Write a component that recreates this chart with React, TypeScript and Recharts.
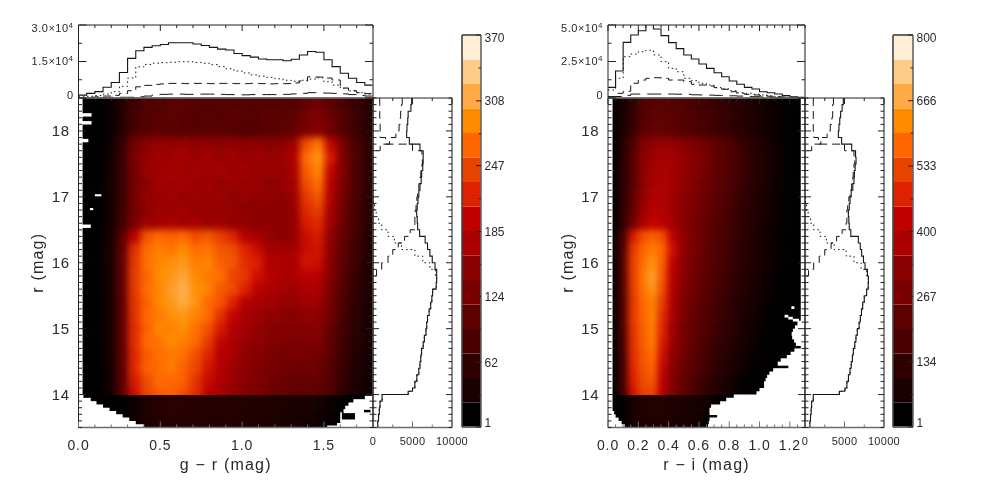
import React from 'react';
import { ScatterChart, Scatter, LineChart, Line, BarChart, Bar, XAxis, YAxis, ReferenceArea } from 'recharts';

const W = 981, H = 492;
const FONT = '"Liberation Sans", Arial, sans-serif';
const INK = '#2a2a2a';

const bandColors = ['#000000','#1a0000','#300000','#4a0000','#5f0000','#780000','#8b0000','#aa0000','#be0000','#dd2200','#e84400','#ff6600','#ff8c00','#ffaa44','#ffcc88','#fff0d5'];

const leftColumns = [0.0375,0.1125,0.1875,0.2625,0.3375,0.4125,0.4875,0.5625,0.6375,0.7125,0.7875,0.8625,0.9375,1.0125,1.0875,1.1625,1.2375,1.3125,1.3875,1.4625,1.5375,1.6125,1.6875,1.7625];
const rightColumns = [0.0325,0.0975,0.1625,0.2275,0.2925,0.3575,0.4225,0.4875,0.5525,0.6175,0.6825,0.7475,0.8125,0.8775,0.9425,1.0075,1.0725,1.1375,1.2025,1.2675];
const upperRows = [18.4,18.2,18.0,17.8,17.6,17.4,17.2,17.0,16.8,16.6,16.4,16.2,16.0,15.8,15.6,15.4,15.2,15.0,14.8,14.6,14.4,14.2,14.0];
const lowerRows = [13.9,13.7,13.5];

const leftUpper = [
[3,6,20,45,72,88,92,98,100,96,92,95,92,95,90,94,95,92,110,120,105,85,65,50],
[3,6,18,45,78,92,98,102,96,92,96,92,100,96,94,100,98,105,125,135,115,90,70,50],
[3,6,18,48,82,96,102,100,98,98,96,100,96,92,94,98,105,110,135,145,120,95,70,50],
[3,8,25,62,125,152,160,156,162,152,158,152,156,150,156,150,152,165,250,275,200,130,85,55],
[3,8,28,68,130,158,168,165,172,162,168,160,168,158,166,160,164,180,270,295,215,135,90,55],
[3,8,28,68,125,160,166,172,166,170,162,172,162,168,158,164,156,175,260,285,200,135,85,55],
[3,8,28,68,125,152,168,164,170,162,168,156,166,158,162,152,158,170,250,270,190,130,85,55],
[3,8,28,68,125,158,162,168,156,166,158,164,152,162,152,158,148,165,235,255,180,125,85,50],
[3,8,28,72,125,152,168,160,168,156,164,156,158,150,154,146,152,160,225,240,170,120,80,50],
[3,8,28,74,132,165,166,178,166,174,160,168,156,158,150,154,146,160,215,225,165,115,80,50],
[3,8,32,95,195,255,270,262,268,250,258,240,222,188,172,158,152,160,205,215,155,110,75,45],
[3,8,34,105,228,268,282,275,288,270,275,255,250,222,205,172,168,170,205,210,150,105,70,45],
[3,8,34,108,235,272,285,292,298,280,285,262,255,228,218,182,178,175,210,205,145,100,70,40],
[3,8,34,108,238,265,290,296,308,288,278,272,245,234,208,192,178,178,195,190,140,95,65,40],
[3,8,34,108,236,270,286,302,316,292,284,258,248,220,198,178,172,165,180,175,130,90,60,40],
[3,8,32,105,232,262,288,298,312,295,268,255,220,192,172,168,158,158,165,165,125,85,60,38],
[3,8,30,105,230,268,278,292,296,284,270,232,200,172,165,155,152,145,155,150,120,80,55,35],
[3,8,30,105,226,262,286,282,290,272,252,215,184,170,158,148,140,142,145,145,110,75,50,35],
[3,8,30,105,228,268,274,288,280,268,238,200,176,160,154,142,138,130,135,135,105,70,50,35],
[3,8,30,100,222,258,272,276,272,250,222,190,172,156,145,134,126,128,125,125,100,70,45,30],
[3,8,28,100,225,262,268,280,262,246,212,188,165,152,140,128,124,116,120,115,95,65,45,30],
[3,8,28,100,215,248,270,266,262,232,204,178,162,146,136,124,118,112,110,110,90,60,40,25],
[3,8,28,95,205,245,258,262,248,228,195,172,156,140,130,118,112,106,105,100,85,55,35,25],
];
const leftLower = [
[3,5,8,12,24,40,48,50,50,50,48,48,46,46,44,42,40,38,36,32,24,16,10,5],
[3,5,8,12,24,40,48,50,48,48,46,46,48,44,42,40,38,36,34,28,20,12,6,3],
[3,5,8,12,24,38,46,48,48,46,46,44,44,42,40,38,36,34,30,24,16,10,5,3],
];
const rightUpper = [
[15,70,130,190,210,215,205,195,175,165,150,135,120,105,85,70,55,40,25,10],
[15,75,135,195,220,220,215,200,185,170,155,140,125,105,90,70,55,40,25,10],
[15,80,145,215,235,235,225,210,195,180,165,145,125,110,90,70,55,40,25,10],
[15,100,190,300,330,345,340,325,300,270,245,210,180,145,115,90,65,45,25,10],
[15,110,205,325,355,370,365,345,315,285,250,215,180,150,120,95,70,45,25,10],
[15,110,205,325,365,375,365,345,315,280,245,215,180,150,120,95,70,45,25,10],
[15,110,210,325,370,375,365,340,305,270,240,205,175,145,115,90,65,45,25,10],
[15,115,220,335,385,380,360,330,300,265,230,200,170,140,110,85,60,40,25,10],
[15,120,230,350,405,395,360,325,290,255,225,190,160,130,105,80,60,40,25,10],
[15,130,260,390,430,410,370,325,285,250,215,185,155,125,100,75,55,40,20,10],
[15,170,460,540,565,540,430,340,285,245,215,180,150,125,95,75,55,35,20,10],
[15,185,505,570,605,570,450,345,285,240,205,175,145,120,90,70,50,35,20,8],
[15,190,515,585,635,565,430,335,275,235,200,170,140,115,90,70,50,30,18,8],
[15,190,515,595,655,555,415,330,270,230,195,165,135,110,85,65,45,30,15,5],
[15,190,510,590,640,540,405,320,265,225,190,160,130,105,80,60,40,25,12,5],
[15,185,505,575,610,515,395,310,255,215,180,150,120,95,75,55,35,20,10,5],
[15,185,505,570,615,495,380,300,245,205,170,145,115,90,65,45,30,15,8,3],
[15,180,500,565,605,480,365,290,240,200,165,135,110,85,60,40,25,15,5,3],
[15,175,495,560,600,465,355,280,230,190,155,125,100,75,55,35,20,10,5,3],
[15,170,490,550,585,450,340,270,220,180,145,115,90,65,45,30,15,8,3,3],
[15,165,480,545,570,435,325,260,210,170,135,105,80,55,35,20,10,5,3,3],
[15,160,470,535,550,420,310,245,195,155,120,90,65,40,25,10,5,3,3,3],
[10,150,450,515,525,400,295,230,185,145,110,80,55,35,15,5,3,3,3,3],
];
const rightLower = [
[5,32,72,88,92,92,88,84,72,68,52,20,6,3,3,3,3,3,3,3],
[5,28,68,84,92,88,84,76,68,56,36,6,3,3,3,3,3,3,3,3],
[5,24,64,80,88,88,80,72,64,48,24,4,3,3,3,3,3,3,3,3],
];

// Top histograms
const topLeftTotal = [1200,1900,2600,4400,6400,10500,16300,19400,20800,21500,22000,22700,22700,22700,22200,21600,20800,20100,19700,18300,17400,16800,16000,15700,15700,15300,15900,17700,19100,18800,15700,12900,10200,8100,6400,5300];
const topLeftDotted = [500,700,1000,1600,2600,4800,8200,12800,13800,14300,14500,14700,14900,14900,14600,14300,13700,12900,12000,11100,10300,9500,9000,8500,7900,7300,6900,7300,7800,8300,6700,5300,4000,2900,2200,1600];
const topLeftDashed = [200,300,500,800,1100,1900,3000,4600,5200,5600,5800,6000,6000,5900,6000,6000,5900,6000,6000,5900,5900,6000,5900,5800,5900,5900,6200,7000,8700,8600,8200,7400,4100,3000,2200,1800];
const topLeftLong = [100,100,100,100,300,300,300,500,800,1300,1500,1600,1600,1500,1600,1600,1600,1500,1400,1300,1300,1400,1400,1400,1400,1500,1700,1900,2200,2200,2000,1900,1700,1400,1000,800];
const topRightTotal = [7300,18500,38100,43100,46100,50500,47300,42700,37900,33800,29500,26700,23300,20300,17300,14600,11600,9400,7300,6200,4300,3600,2700,1600,900,500];
const topRightDotted = [5500,13500,28300,30100,31700,32700,29500,24900,20300,18000,13500,11900,10100,8900,7100,6200,5000,3600,3200,2500,2100,1400,900,500,400,300];
const topRightDashed = [900,3200,4600,10100,12300,13500,13900,13500,12300,12300,11200,9400,8900,8200,7100,6000,4300,3200,2500,2100,1600,1200,800,600,400,300];
const topRightLong = [800,1000,1800,2700,2700,2700,2700,2700,2700,2600,2500,2200,2100,2000,1800,1700,1500,1300,1100,900,700,500,400,300,200,100];

// Side histograms (r, top to bottom)
const sideMags = [18.5,18.4,18.3,18.2,18.1,18.0,17.9,17.8,17.7,17.6,17.5,17.4,17.3,17.2,17.1,17.0,16.9,16.8,16.7,16.6,16.5,16.4,16.3,16.2,16.1,16.0,15.9,15.8,15.7,15.6,15.5,15.4,15.3,15.2,15.1,15.0,14.9,14.8,14.7,14.6,14.5,14.4,14.3,14.2,14.1,14.05,14.0,13.9,13.8,13.7,13.6,13.5];
const sideLeftTotal = [4900,4800,4450,4400,4300,4260,4600,5950,6350,6350,6300,6160,6100,5950,5800,5700,5600,5530,5600,5650,5900,6600,6900,7200,7500,7850,8060,8060,8000,7550,7450,7300,7100,6900,6800,6700,6500,6350,6150,6050,5950,5800,5550,5300,5000,4450,1150,890,800,700,600,510];
const n = null;
const sideLeftDotted = [n,n,n,n,n,n,n,n,n,n,n,n,n,n,n,40,200,400,700,1100,1900,2700,3600,5300,6300,7200,7900,8060,8000,7550,7450,7300,7100,6900,6800,6700,6500,6350,6150,6050,5950,5800,5550,5300,5000,4450,1150,890,800,700,600,510];
const sideLeftDashed = [3700,3600,3500,3450,3300,2900,2100,900,200,n,n,n,n,n,n,n,n,n,n,n,n,n,n,n,n,n,n,n,n,n,n,n,n,n,n,n,n,n,n,n,n,n,n,n,n,n,n,n,n,n,n,n];
const sideLeftLong = [850,850,850,900,900,900,1600,5000,6200,6250,6200,6050,5950,5800,5650,5550,5450,5350,5300,5300,4700,4000,3200,2500,1900,1100,450,100,n,n,n,n,n,n,n,n,n,n,n,n,n,n,n,n,n,n,n,n,n,n,n,n];
const sideRightTotal = [4850,4700,4510,4400,4300,4220,4640,5910,6400,6460,6350,6250,6200,6050,5850,5700,5600,5490,5550,5600,5800,6750,7000,7170,7400,7600,7900,8020,8000,7800,7500,7300,7150,7000,6850,6620,6450,6300,6120,6000,5850,5700,5500,5300,5050,4350,1050,840,780,700,620,550];
const sideRightDotted = [n,n,n,n,n,n,n,n,n,n,n,n,n,n,n,40,200,400,700,1100,1900,2700,3700,5200,6200,7100,7800,8020,8000,7800,7500,7300,7150,7000,6850,6620,6450,6300,6120,6000,5850,5700,5500,5300,5050,4350,1050,840,780,700,620,550];
const sideRightDashed = [3600,3500,3500,3400,3200,2800,2000,850,300,n,n,n,n,n,n,n,n,n,n,n,n,n,n,n,n,n,n,n,n,n,n,n,n,n,n,n,n,n,n,n,n,n,n,n,n,n,n,n,n,n,n,n];
const sideRightLong = [1050,1050,1050,1050,1050,1100,1700,5000,6200,6300,6200,6100,6050,5900,5700,5550,5400,5300,5300,5200,4700,4000,3300,2500,1800,1100,450,100,n,n,n,n,n,n,n,n,n,n,n,n,n,n,n,n,n,n,n,n,n,n,n,n];

// White, unsampled parts of the maps: [r upper, r lower, colour from, colour to]
const leftHoles = [
[18.5,13.95,0,0.025],[18.27,18.23,0,0.08],[18.15,18.11,0,0.08],[17.88,17.84,0,0.06],[16.58,16.54,0,0.075],[17.04,17.02,0.1,0.14],[16.83,16.81,0.07,0.09],
[14.0,13.95,0,0.03],[13.95,13.9,0,0.075],[13.9,13.85,0,0.11],[13.85,13.8,0,0.15],[13.8,13.75,0,0.19],[13.75,13.7,0,0.23],[13.7,13.65,0,0.27],[13.65,13.6,0,0.31],[13.6,13.55,0,0.35],[13.55,13.5,0,0.4],
[13.98,13.93,1.75,1.8],[13.93,13.88,1.68,1.8],[13.88,13.83,1.65,1.8],[13.83,13.78,1.63,1.8],[13.78,13.73,1.62,1.745],[13.78,13.73,1.785,1.8],[13.73,13.62,1.69,1.8],[13.73,13.62,1.6,1.61],[13.62,13.57,1.6,1.8],[13.57,13.53,1.58,1.8],[13.53,13.5,1.52,1.8],
];
const rightHoles = [
[18.5,13.5,0,0.03],[18.5,15.12,1.272,1.3],[15.34,15.31,1.21,1.23],[15.21,15.18,1.165,1.19],[15.18,15.15,1.19,1.22],[15.15,15.12,1.22,1.26],
[15.12,15.05,1.25,1.3],[15.05,15.0,1.234,1.3],[15.0,14.95,1.22,1.3],[14.95,14.9,1.212,1.3],[14.9,14.85,1.215,1.3],[14.85,14.8,1.228,1.3],[14.8,14.75,1.24,1.3],[14.75,14.7,1.272,1.3],[14.7,14.65,1.23,1.3],[14.65,14.6,1.205,1.3],[14.6,14.55,1.18,1.3],[14.55,14.5,1.14,1.3],[14.5,14.45,1.12,1.3],[14.45,14.4,1.19,1.3],[14.4,14.35,1.09,1.3],[14.35,14.3,1.065,1.3],[14.3,14.25,1.05,1.3],[14.25,14.2,1.04,1.3],[14.2,14.15,1.03,1.3],[14.15,14.1,1.03,1.3],[14.1,14.05,1.0,1.3],[14.05,14.0,0.98,1.3],[14.0,13.95,0.83,1.3],[13.95,13.9,0.78,1.3],[13.9,13.85,0.74,1.3],[13.85,13.8,0.68,1.3],[13.8,13.75,0.67,1.3],[13.75,13.7,0.67,1.3],[13.7,13.65,0.72,1.3],[13.65,13.6,0.67,1.3],[13.6,13.55,0.665,1.3],[13.55,13.5,0.66,1.3],
[13.75,13.7,0,0.04],[13.7,13.65,0,0.05],[13.65,13.6,0,0.07],[13.6,13.55,0,0.09],[13.55,13.5,0,0.11],
];

const magTicks = Array.from({ length: 51 }, (_, i) => 13.5 + i * 0.1);
const grTicks = Array.from({ length: 19 }, (_, i) => i * 0.1);
const riTicks = Array.from({ length: 27 }, (_, i) => i * 0.05);
const countTicks = [0, 2500, 5000, 7500, 10000];
const topLeftTicks = [0, 7500, 15000, 22500, 30000];
const topRightTicks = [0, 12500, 25000, 37500, 50000];
const barLeftTicks = [1, 31, 62, 93, 124, 154, 185, 216, 247, 277, 308, 339, 370];
const barRightTicks = [1, 67, 134, 200, 267, 333, 400, 466, 533, 600, 666, 733, 800];

type Rect = { x0: number; y0: number; x1: number; y1: number };
const marginOf = (r: Rect) => ({ left: r.x0, top: r.y0, right: W - r.x1, bottom: H - r.y1 });
const boxMargin = (r: Rect) => ({ left: r.x0 - 1, top: r.y0 - 1, right: W - r.x1 - 1, bottom: H - r.y1 - 1 });
const near = (v: number, step: number) => Math.abs(v / step - Math.round(v / step)) < 1e-6;

const toRgb = (h: string) => [1, 3, 5].map((i) => parseInt(h.slice(i, i + 2), 16));
function shade(v: number, max: number) {
  const t = Math.min(15, Math.max(0, ((v - 1) / (max - 1)) * 16 - 0.5));
  const a = Math.floor(t), b = Math.min(15, a + 1), f = t - a;
  const ca = toRgb(bandColors[a]), cb = toRgb(bandColors[b]);
  return `rgb(${ca.map((c, i) => Math.round(c + (cb[i] - c) * f)).join(',')})`;
}

type TickCfg = { side: 'left' | 'right' | 'top' | 'bottom'; major: (v: number) => boolean; majorLen: number; minorLen: number; stroke: string; strokeWidth?: number; label?: (v: number) => React.ReactNode; offset?: number; size?: number; spacing?: number; dy?: (v: number) => number };
const makeTick = (c: TickCfg) => (p: any) => {
  const { x, y, payload } = p;
  const v = payload.value as number;
  const m = c.major(v);
  const len = m ? c.majorLen : c.minorLen;
  const d = c.side === 'bottom' ? [x, y - len] : c.side === 'top' ? [x, y + len] : c.side === 'left' ? [x + len, y] : [x - len, y];
  const off = c.offset ?? 6;
  const lab = m && c.label ? c.label(v) : null;
  const dy = c.dy ? c.dy(v) : 0;
  return (
    <g>
      <line x1={x} y1={y} x2={d[0]} y2={d[1]} stroke={c.stroke} strokeWidth={c.strokeWidth ?? 1} />
      {lab !== null && lab !== undefined && (
        <text
          x={c.side === 'left' ? x - off : c.side === 'right' ? x + off : x}
          y={c.side === 'bottom' ? y + off : y + dy}
          dy={c.side === 'bottom' ? 0 : '0.36em'}
          textAnchor={c.side === 'left' ? 'end' : c.side === 'right' ? 'start' : 'middle'}
          fontFamily={FONT} fontSize={c.size ?? 14} letterSpacing={c.spacing ?? 0} fill={INK}
        >{lab}</text>
      )}
    </g>
  );
};

const DARK = '#222222', GREY = '#6e6e6e';
const Layer = ({ children }: { children: React.ReactNode }) => (
  <div style={{ position: 'absolute', left: 0, top: 0, width: W, height: H }}>{children}</div>
);

function boxAxes(o: { xDomain: number[]; yDomain: number[]; xTicks: number[]; yTicks: number[]; xKey?: string; yKey?: string; xMajor: (v: number) => boolean; yMajor: (v: number) => boolean; xMajorLen?: number; yMajorLen?: number; xLabelFn?: (v: number) => React.ReactNode; yLabelFn?: (v: number) => React.ReactNode; xSize?: number; ySize?: number; xSpacing?: number; xOff?: number; yOff?: number; dy?: (v: number) => number; xTitle?: string; yTitle?: string; showBottom?: boolean; showTop?: boolean; rightLen?: number; reversed?: boolean }) {
  const xm = o.xMajorLen ?? 6, ym = o.yMajorLen ?? 7;
  const common = { interval: 0 as const, tickSize: 0, tickMargin: 0, tickLine: false, allowDataOverflow: true };
  return (
    <>
      <XAxis {...common} xAxisId={0} type="number" dataKey={o.xKey} domain={o.xDomain} ticks={o.xTicks} orientation="bottom" height={1}
        axisLine={{ stroke: GREY, strokeWidth: 1.6 }}
        tick={o.showBottom === false ? false : makeTick({ side: 'bottom', major: o.xMajor, majorLen: xm, minorLen: 3, stroke: GREY, label: o.xLabelFn, offset: o.xOff ?? 22, size: o.xSize ?? 14, spacing: o.xSpacing ?? 0.9 })}
        label={o.xTitle ? { value: o.xTitle, position: 'bottom', offset: 30, style: { fontFamily: FONT, fontSize: 16, fill: INK, letterSpacing: 1.2 } } : undefined} />
      <XAxis {...common} xAxisId="t" type="number" dataKey={o.xKey} domain={o.xDomain} ticks={o.xTicks} orientation="top" height={1}
        axisLine={{ stroke: DARK, strokeWidth: 1 }}
        tick={o.showTop === false ? false : makeTick({ side: 'top', major: o.xMajor, majorLen: xm, minorLen: 3, stroke: DARK })} />
      <YAxis {...common} yAxisId={0} type="number" dataKey={o.yKey} domain={o.yDomain} ticks={o.yTicks} orientation="left" width={1} reversed={o.reversed}
        axisLine={{ stroke: DARK, strokeWidth: 1 }}
        tick={makeTick({ side: 'left', major: o.yMajor, majorLen: ym, minorLen: 3.5, stroke: DARK, label: o.yLabelFn, offset: o.yOff ?? 9, size: o.ySize ?? 15, spacing: 0.5, dy: o.dy })}
        label={o.yTitle ? { value: o.yTitle, angle: -90, position: 'left', offset: 40, style: { fontFamily: FONT, fontSize: 16, fill: INK, letterSpacing: 1.2, textAnchor: 'middle' } } : undefined} />
      <YAxis {...common} yAxisId="r" type="number" dataKey={o.yKey} domain={o.yDomain} ticks={o.yTicks} orientation="right" width={1} reversed={o.reversed}
        axisLine={{ stroke: GREY, strokeWidth: 1.6 }}
        tick={makeTick({ side: 'right', major: o.yMajor, majorLen: o.rightLen ?? ym, minorLen: 3.5, stroke: DARK })} />
    </>
  );
}

function HeatZone(o: { rect: Rect; xDomain: number[]; rDomain: number[]; cols: number[]; rows: number[]; values: number[][]; max: number; blur: number }) {
  const pad = 16;
  const { rect, cols, rows, values, max } = o;
  const w = rect.x1 - rect.x0, h = rect.y1 - rect.y0;
  const cw = ((cols[1] - cols[0]) / (o.xDomain[1] - o.xDomain[0])) * w;
  const ch = (0.2 / (o.rDomain[1] - o.rDomain[0])) * h;
  const cells = rows.flatMap((r, ri) => cols.map((x, ci) => ({ x, r, v: values[ri][ci], ri, ci })));
  const shape = (p: any) => {
    const { cx, cy, payload } = p;
    const l = cx - cw / 2 - (payload.ci === 0 ? pad + cw : 0);
    const rr = cx + cw / 2 + (payload.ci === cols.length - 1 ? pad + cw : 0.6);
    const t = cy - ch / 2 - (payload.ri === 0 ? pad + ch : 0);
    const b = cy + ch / 2 + (payload.ri === rows.length - 1 ? pad + ch : 0.6);
    return <rect x={l} y={t} width={rr - l} height={b - t} fill={shade(payload.v, max)} />;
  };
  return (
    <div style={{ position: 'absolute', left: rect.x0, top: rect.y0, width: w, height: h, overflow: 'hidden' }}>
      <div style={{ position: 'absolute', left: -pad, top: -pad, filter: `blur(${o.blur}px)` }}>
        <ScatterChart width={w + 2 * pad} height={h + 2 * pad} margin={{ left: pad, right: pad, top: pad, bottom: pad }}>
          <XAxis type="number" dataKey="x" domain={o.xDomain} hide />
          <YAxis type="number" dataKey="r" domain={o.rDomain} hide />
          <Scatter data={cells} shape={shape} isAnimationActive={false} />
        </ScatterChart>
      </div>
    </div>
  );
}

const expo = (m: string) => (
  <>{m}×10<tspan dy={-4} fontSize={8}>4</tspan></>
);

function TopHist(o: { rect: Rect; xMax: number; yMax: number; yTicks: number[]; xTicks: number[]; xMajor: (v: number) => boolean; total: number[]; dotted: number[]; dashed: number[]; long: number[]; midLabel: string; topLabel: string }) {
  const data = Array.from({ length: o.total.length + 1 }, (_, i) => {
    const k = Math.min(i, o.total.length - 1);
    return { x: i * 0.05, total: o.total[k], dotted: o.dotted[k], dashed: o.dashed[k], long: o.long[k] };
  });
  const mid = o.yMax / 2;
  const lineProps = { dot: false, activeDot: false, isAnimationActive: false, type: 'stepAfter' as const, stroke: '#151515', connectNulls: false };
  return (
    <Layer>
      <LineChart width={W} height={H} data={data} margin={boxMargin(o.rect)}>
        {boxAxes({
          xKey: 'x', xDomain: [0, o.xMax], yDomain: [0, o.yMax], xTicks: o.xTicks, yTicks: o.yTicks,
          xMajor: o.xMajor, yMajor: (v) => near(v, mid), yMajorLen: 8, showBottom: false,
          yLabelFn: (v) => (v === 0 ? '0' : v === mid ? expo(o.midLabel) : expo(o.topLabel)),
          ySize: 11, yOff: 5, dy: (v) => (v === 0 ? -3 : v === o.yMax ? 3 : 0),
        })}
        <Line dataKey="long" {...lineProps} strokeWidth={1} strokeDasharray="14 7" />
        <Line dataKey="dashed" {...lineProps} strokeWidth={1} strokeDasharray="8 5" />
        <Line dataKey="dotted" {...lineProps} strokeWidth={1} strokeDasharray="1.5 3" />
        <Line dataKey="total" {...lineProps} strokeWidth={1.1} />
      </LineChart>
    </Layer>
  );
}

function SideHist(o: { rect: Rect; total: (number | null)[]; dotted: (number | null)[]; dashed: (number | null)[]; long: (number | null)[] }) {
  const data = sideMags.map((r, i) => ({ r, total: o.total[i], dotted: o.dotted[i], dashed: o.dashed[i], long: o.long[i] }));
  const lineProps = { dot: false, activeDot: false, isAnimationActive: false, type: 'stepBefore' as const, stroke: '#151515', connectNulls: false };
  return (
    <Layer>
      <LineChart layout="vertical" width={W} height={H} data={data} margin={boxMargin(o.rect)}>
        {boxAxes({
          yKey: 'r', xDomain: [0, 10000], yDomain: [13.5, 18.5], xTicks: countTicks, yTicks: magTicks,
          xMajor: (v) => near(v, 5000), yMajor: (v) => near(v, 1), xMajorLen: 6, yMajorLen: 6, showTop: true,
          xLabelFn: (v) => String(v), xSize: 11, xSpacing: 0.3, xOff: 17, rightLen: 6, reversed: true,
        })}
        <Line dataKey="long" {...lineProps} strokeWidth={1} strokeDasharray="8 5" />
        <Line dataKey="dashed" {...lineProps} strokeWidth={1} strokeDasharray="9 5" />
        <Line dataKey="dotted" {...lineProps} strokeWidth={1} strokeDasharray="1.5 3" />
        <Line dataKey="total" {...lineProps} strokeWidth={1.1} />
      </LineChart>
    </Layer>
  );
}

function MainFrame(o: { rect: Rect; xMax: number; xTicks: number[]; xMajor: (v: number) => boolean; fmt: (v: number) => string; xTitle: string; holes: number[][] }) {
  return (
    <>
      <Layer>
        <ScatterChart width={W} height={H} margin={marginOf(o.rect)}>
          <XAxis type="number" dataKey="x" domain={[0, o.xMax]} hide allowDataOverflow />
          <YAxis type="number" dataKey="r" domain={[13.5, 18.5]} hide allowDataOverflow />
          {o.holes.map((h, i) => (
            <ReferenceArea key={i} y1={Math.max(13.5, h[1] - 0.012)} y2={h[0]} x1={h[2]} x2={h[3]} fill="#ffffff" fillOpacity={1} stroke="none" />
          ))}
          <Scatter data={[]} isAnimationActive={false} />
        </ScatterChart>
      </Layer>
      <Layer>
        <ScatterChart width={W} height={H} margin={boxMargin(o.rect)}>
          {boxAxes({
            xKey: 'x', yKey: 'r', xDomain: [0, o.xMax], yDomain: [13.5, 18.5], xTicks: o.xTicks, yTicks: magTicks,
            xMajor: o.xMajor, yMajor: (v) => near(v, 1), xLabelFn: o.fmt, yLabelFn: (v) => String(Math.round(v)),
            xTitle: o.xTitle, yTitle: 'r (mag)', xMajorLen: 6, yMajorLen: 7,
          })}
          <Scatter data={[]} isAnimationActive={false} />
        </ScatterChart>
      </Layer>
    </>
  );
}

function ColorBar(o: { rect: Rect; max: number; ticks: number[]; labels: number[] }) {
  const step = (o.max - 1) / bandColors.length;
  const row: Record<string, number | string> = { c: 'scale' };
  bandColors.forEach((_, i) => { row['b' + i] = i === 0 ? step + 1 : step; });
  const common = { interval: 0 as const, tickSize: 0, tickMargin: 0, tickLine: false, allowDataOverflow: true };
  return (
    <Layer>
      <BarChart width={W} height={H} data={[row]} margin={boxMargin(o.rect)} barCategoryGap={0} barGap={0}>
        <XAxis {...common} dataKey="c" height={1} tick={false} axisLine={{ stroke: '#666', strokeWidth: 2 }} />
        <XAxis {...common} xAxisId="t" dataKey="c" orientation="top" height={1} tick={false} axisLine={{ stroke: '#666', strokeWidth: 2 }} />
        <YAxis {...common} yAxisId="l" type="number" domain={[1, o.max]} width={1} tick={false} axisLine={{ stroke: '#444', strokeWidth: 1.6 }} />
        <YAxis {...common} type="number" yAxisId={0} orientation="right" domain={[1, o.max]} ticks={o.ticks} width={1}
          axisLine={{ stroke: '#666', strokeWidth: 1.6 }}
          tick={makeTick({ side: 'right', major: (v) => o.labels.includes(v), majorLen: 5, minorLen: 2.5, stroke: '#222', label: (v) => String(v), offset: 3.5, size: 12, dy: (v) => (v === o.max ? 3 : v === 1 ? -4 : 0) })} />
        {bandColors.map((c, i) => (
          <Bar key={c} dataKey={'b' + i} stackId="s" fill={c} isAnimationActive={false} />
        ))}
      </BarChart>
    </Layer>
  );
}

const leftMain: Rect = { x0: 78.5, y0: 98, x1: 373, y1: 427.5 };
const rightMain: Rect = { x0: 608, y0: 98, x1: 805, y1: 427.5 };
const split = (r: Rect, a: number, b: number): Rect => ({ ...r, y0: r.y1 - ((b - 13.5) / 5) * (r.y1 - r.y0), y1: r.y1 - ((a - 13.5) / 5) * (r.y1 - r.y0) });

export default function App() {
  return (
    <div style={{ position: 'absolute', left: 0, top: 0, width: W, height: H, background: '#fff', overflow: 'hidden', filter: 'blur(0.35px)' }}>
      <HeatZone rect={split(leftMain, 14, 18.5)} xDomain={[0, 1.8]} rDomain={[14, 18.5]} cols={leftColumns} rows={upperRows} values={leftUpper} max={370} blur={3.6} />
      <HeatZone rect={split(leftMain, 13.5, 14)} xDomain={[0, 1.8]} rDomain={[13.5, 14]} cols={leftColumns} rows={lowerRows} values={leftLower} max={370} blur={3} />
      <HeatZone rect={split(rightMain, 14, 18.5)} xDomain={[0, 1.3]} rDomain={[14, 18.5]} cols={rightColumns} rows={upperRows} values={rightUpper} max={800} blur={3.2} />
      <HeatZone rect={split(rightMain, 13.5, 14)} xDomain={[0, 1.3]} rDomain={[13.5, 14]} cols={rightColumns} rows={lowerRows} values={rightLower} max={800} blur={3} />

      <MainFrame rect={leftMain} xMax={1.8} xTicks={grTicks} xMajor={(v) => near(v, 0.5)} fmt={(v) => v.toFixed(1)} xTitle="g − r (mag)" holes={leftHoles} />
      <MainFrame rect={rightMain} xMax={1.3} xTicks={riTicks} xMajor={(v) => near(v, 0.2)} fmt={(v) => v.toFixed(1)} xTitle="r − i (mag)" holes={rightHoles} />

      <TopHist rect={{ x0: 78.5, y0: 25, x1: 373, y1: 98 }} xMax={1.8} yMax={30000} yTicks={topLeftTicks} xTicks={grTicks} xMajor={(v) => near(v, 0.5)} total={topLeftTotal} dotted={topLeftDotted} dashed={topLeftDashed} long={topLeftLong} midLabel="1.5" topLabel="3.0" />
      <TopHist rect={{ x0: 608, y0: 25, x1: 805, y1: 98 }} xMax={1.3} yMax={50000} yTicks={topRightTicks} xTicks={riTicks} xMajor={(v) => near(v, 0.2)} total={topRightTotal} dotted={topRightDotted} dashed={topRightDashed} long={topRightLong} midLabel="2.5" topLabel="5.0" />

      <SideHist rect={{ x0: 373, y0: 98, x1: 452, y1: 427.5 }} total={sideLeftTotal} dotted={sideLeftDotted} dashed={sideLeftDashed} long={sideLeftLong} />
      <SideHist rect={{ x0: 805, y0: 98, x1: 884, y1: 427.5 }} total={sideRightTotal} dotted={sideRightDotted} dashed={sideRightDashed} long={sideRightLong} />

      <ColorBar rect={{ x0: 462, y0: 35, x1: 481, y1: 427 }} max={370} ticks={barLeftTicks} labels={[1, 62, 124, 185, 247, 308, 370]} />
      <ColorBar rect={{ x0: 893, y0: 35, x1: 913, y1: 427 }} max={800} ticks={barRightTicks} labels={[1, 134, 267, 400, 533, 666, 800]} />
    </div>
  );
}
